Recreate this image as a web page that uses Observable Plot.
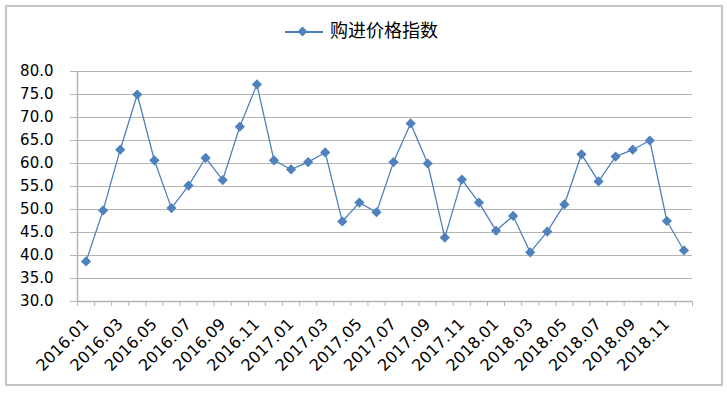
<!DOCTYPE html>
<html><head><meta charset="utf-8">
<script src="https://cdn.jsdelivr.net/npm/d3@7"></script>
<script src="https://cdn.jsdelivr.net/npm/@observablehq/plot@0.6"></script>
<style>
body{margin:0;background:#fff;}
#wrap{position:relative;width:727px;height:394px;overflow:hidden;}
#frame{position:absolute;left:5px;top:5px;width:718px;height:381px;border:2px solid #c4c4c4;box-sizing:border-box;pointer-events:none;}
#legend{position:relative;height:50px;}
#lgline{position:absolute;left:285px;top:31px;width:38px;height:1.5px;background:#4a7ebb;}
#lgdot{position:absolute;left:299px;top:27.5px;width:7px;height:7px;background:#4f81bd;transform:rotate(45deg);}
#lgtext{position:absolute;left:330px;top:17px;font-family:"Noto Sans CJK SC",sans-serif;font-size:18px;line-height:24px;color:#000;}
svg{display:block;}
</style>
</head><body>
<div id="wrap">
<div id="legend"><span id="lgline"></span><span id="lgdot"></span><span id="lgtext">购进价格指数</span></div>
<div id="chart"></div>
<div id="frame"></div>
</div>
<script>
const seriesName = "购进价格指数";
const months = ["2016.01","2016.02","2016.03","2016.04","2016.05","2016.06","2016.07","2016.08","2016.09","2016.10","2016.11","2016.12",
"2017.01","2017.02","2017.03","2017.04","2017.05","2017.06","2017.07","2017.08","2017.09","2017.10","2017.11","2017.12",
"2018.01","2018.02","2018.03","2018.04","2018.05","2018.06","2018.07","2018.08","2018.09","2018.10","2018.11","2018.12"];
const values = [38.7,49.8,63.0,75.0,60.7,50.3,55.2,61.2,56.4,68.0,77.2,60.7,
58.7,60.3,62.4,47.4,51.5,49.4,60.3,68.7,60.0,43.9,56.5,51.5,
45.4,48.6,40.7,45.2,51.1,62.0,56.1,61.5,63.0,65.0,47.5,41.1];
const yTicks = [30,35,40,45,50,55,60,65,70,75,80];
const labelMonths = ["2016.01","2016.03","2016.05","2016.07","2016.09","2016.11","2017.01","2017.03","2017.05","2017.07","2017.09","2017.11","2018.01","2018.03","2018.05","2018.07","2018.09","2018.11"];

const data = months.map((m, i) => ({i, m, v: values[i]}));
const labelIdx = labelMonths.map(m => months.indexOf(m));
const boundaries = d3.range(months.length + 1).map(k => k - 0.5);
const gridColor = "#b4b4b4";

const chart = Plot.plot({
  width: 727, height: 344,
  marginLeft: 77, marginRight: 35, marginTop: 21, marginBottom: 93,
  style: {fontFamily: "DejaVu Sans, sans-serif", fontSize: "15px", color: "#000", background: "transparent"},
  x: {type: "linear", domain: [-0.5, months.length - 0.5], axis: null},
  y: {domain: [30, 80], axis: null},
  marks: [
    Plot.gridY(yTicks, {stroke: gridColor, strokeOpacity: 1, strokeWidth: 1}),
    Plot.ruleX([-0.5], {stroke: gridColor, strokeWidth: 1.5}),
    Plot.ruleY([30], {stroke: gridColor, strokeWidth: 1.5}),
    Plot.axisY({ticks: yTicks, tickFormat: d => d.toFixed(1), tickSize: 7, tickPadding: 17, stroke: gridColor, fill: "#000", fontSize: 15, label: null}),
    Plot.axisX({ticks: boundaries, tickFormat: () => "", tickSize: 5, stroke: gridColor, label: null}),
    Plot.axisX({ticks: labelIdx, tickFormat: i => months[i], tickSize: 0, tickPadding: 20, tickRotate: -45, fill: "#000", fontSize: 16, label: null}),
    Plot.line(data, {x: "i", y: "v", stroke: "#4a7ebb", strokeWidth: 1.25}),
    Plot.dot(data, {x: "i", y: "v", symbol: "diamond2", r: 4.6, fill: "#4f81bd", stroke: "none"})
  ]
});
document.getElementById("chart").appendChild(chart);
</script>
</body></html>
